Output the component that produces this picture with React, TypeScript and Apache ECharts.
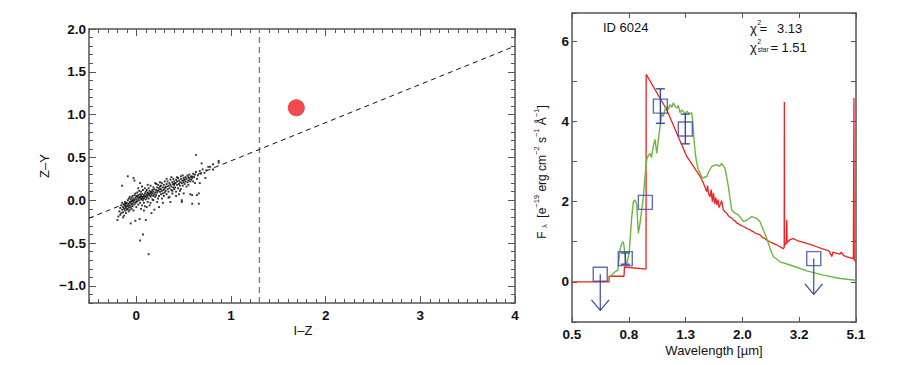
import React, { useEffect, useRef } from 'react';
import * as echarts from 'echarts';

// ---------------- Left panel: colour-colour diagram ----------------
const colorPoints: number[][] = [
  [-0.18,-0.13],[-0.17,-0.09],[-0.16,-0.15],[-0.16,-0.06],[-0.15,-0.11],[-0.15,-0.03],[-0.14,-0.08],[-0.14,-0.14],[-0.13,-0.1],[-0.13,-0.05],[-0.13,-0.18],[-0.12,-0.07],[-0.12,-0.12],[-0.12,-0.02],[-0.11,-0.09],[-0.11,-0.15],[-0.11,-0.05],[-0.1,-0.11],[-0.1,-0.03],[-0.1,-0.07],[-0.19,-0.19],[-0.2,-0.23],[-0.17,-0.17],[-0.15,0.17],[-0.14,-0.2],
  [-0.09,-0.06],[-0.09,-0.1],[-0.09,0.0],[-0.09,0.28],[-0.08,-0.04],[-0.08,-0.13],[-0.08,0.02],[-0.08,-0.08],[-0.07,-0.02],[-0.07,-0.06],[-0.07,-0.11],[-0.07,0.04],[-0.06,-0.27],[-0.06,-0.03],[-0.06,-0.08],[-0.06,0.01],[-0.05,-0.05],[-0.05,0.03],[-0.05,-0.1],[-0.05,-0.01],[-0.04,-0.04],[-0.04,0.05],[-0.04,-0.07],[-0.04,0.0],[-0.03,0.26],[-0.03,-0.02],[-0.03,0.02],[-0.03,-0.12],[-0.02,0.23],[-0.02,0.0],[-0.02,-0.05],[-0.02,0.06],[-0.01,-0.24],[-0.01,0.03],[-0.01,-0.03],[-0.01,0.08],[0.0,0.01],[0.0,-0.08],[0.0,0.05],[0.0,-0.02],
  [0.01,0.04],[0.01,-0.01],[0.01,0.09],[0.02,0.02],[0.02,-0.05],[0.02,0.06],[0.03,0.0],[0.03,0.04],[0.03,0.11],[0.035,-0.22],[0.04,0.2],[0.04,-0.47],[0.04,0.03],[0.04,0.07],[0.04,-0.03],[0.05,0.05],[0.05,0.01],[0.05,0.1],[0.06,0.02],[0.06,-0.06],[0.06,0.07],[0.07,-0.4],[0.07,0.04],[0.07,0.0],[0.07,0.12],[0.08,0.06],[0.08,0.02],[0.08,-0.03],[0.09,0.08],[0.09,0.04],[0.09,0.14],[0.1,-0.23],[0.1,0.05],[0.1,0.01],[0.1,0.1],[0.05,-0.1],[0.08,-0.12],[0.02,0.14],[0.06,0.16],[0.09,-0.07],
  [0.11,0.07],[0.11,0.03],[0.11,0.12],[0.12,0.05],[0.12,0.09],[0.12,-0.02],[0.13,-0.63],[0.13,0.08],[0.13,0.14],[0.13,0.02],[0.14,0.06],[0.14,0.11],[0.14,-0.06],[0.15,0.09],[0.15,0.04],[0.15,0.17],[0.16,0.1],[0.16,-0.15],[0.16,0.06],[0.17,0.12],[0.17,0.01],[0.17,0.08],[0.18,0.15],[0.18,0.05],[0.18,0.1],[0.19,-0.11],[0.19,0.07],[0.19,0.13],[0.2,0.2],[0.2,0.09],[0.2,0.04],[0.12,0.18],[0.15,-0.03],[0.18,0.0],[0.11,-0.08],
  [0.21,0.12],[0.21,0.06],[0.22,0.15],[0.22,-0.02],[0.22,0.09],[0.23,0.18],[0.23,0.11],[0.24,0.05],[0.24,-0.08],[0.24,0.14],[0.25,0.21],[0.25,0.1],[0.26,0.13],[0.26,0.07],[0.26,0.17],[0.27,0.02],[0.27,0.11],[0.27,0.2],[0.28,0.15],[0.28,0.08],[0.29,0.12],[0.29,0.18],[0.29,0.05],[0.3,0.14],[0.3,0.22],[0.3,0.09],[0.23,0.02],[0.28,-0.03],[0.25,0.16],[0.21,0.19],
  [0.31,0.16],[0.31,0.11],[0.32,0.19],[0.32,0.07],[0.33,0.13],[0.33,0.22],[0.34,0.17],[0.34,0.1],[0.35,0.2],[0.35,0.14],[0.35,0.04],[0.36,-0.02],[0.36,0.18],[0.36,0.24],[0.37,0.12],[0.37,0.16],[0.38,0.21],[0.38,0.08],[0.39,0.15],[0.39,0.19],[0.39,0.25],[0.4,0.13],[0.4,0.18],[0.4,0.22],[0.32,0.25],[0.34,0.03],[0.38,0.11],[0.37,0.27],
  [0.41,0.2],[0.41,0.15],[0.42,0.24],[0.42,0.1],[0.43,0.18],[0.43,0.22],[0.44,0.14],[0.44,0.26],[0.45,0.19],[0.45,0.23],[0.45,0.07],[0.46,0.17],[0.46,0.21],[0.47,0.25],[0.47,0.13],[0.47,0.28],[0.48,-0.02],[0.48,0.0],[0.48,0.2],[0.49,0.23],[0.49,0.17],[0.5,0.26],[0.5,0.08],[0.5,0.21],[0.43,0.27],[0.46,0.11],[0.49,0.29],[0.42,0.05],
  [0.51,0.24],[0.51,0.19],[0.52,0.27],[0.52,0.22],[0.53,0.16],[0.53,0.25],[0.54,0.29],[0.54,0.21],[0.55,0.23],[0.55,0.27],[0.55,0.18],[0.56,0.3],[0.56,0.25],[0.57,0.07],[0.57,0.22],[0.58,0.28],[0.58,0.24],[0.59,0.06],[0.59,-0.04],[0.59,0.26],[0.6,0.31],[0.6,0.22],
  [0.61,0.27],[0.62,0.3],[0.62,0.2],[0.63,0.53],[0.63,0.33],[0.64,0.06],[0.64,0.25],[0.65,0.29],[0.66,-0.04],[0.66,0.08],[0.67,0.2],[0.67,0.34],[0.68,0.31],[0.69,0.43],[0.7,0.36],[0.73,0.26],[0.74,0.35],[0.76,0.39],[0.78,0.39],[0.81,0.42],[0.81,0.36],[0.87,0.46],[0.87,0.44],[0.72,0.32]
];
const candidate: number[][] = [[1.69, 1.08]];
const colorCut = 1.3;
const separationLine: number[][] = [[-0.5, -0.21], [4.0, 1.8]];
const izTicks = [0, 1, 2, 3, 4];
const zyTicks = [-1.0, -0.5, 0.0, 0.5, 1.0, 1.5, 2.0];

// ---------------- Right panel: SED ----------------
const wavelengthTickLabels = ['0.5', '0.8', '1.3', '2.0', '3.2', '5.1'];
const redModel: number[][] = [
  [0.5,0],[0.677,0],[0.677,0.14],[0.765,0.14],[0.768,0.37],[0.916,0.32],[0.917,5.17],[1.085,4.29],[1.278,3.125],[1.349,2.88],[1.425,2.63],[1.464,2.46],[1.485,2.35],[1.505,2.25],[1.515,2.4],[1.526,2.2],[1.546,2.12],[1.56,2.3],[1.575,2.0],[1.59,2.22],[1.605,1.95],[1.62,2.1],[1.633,1.92],[1.65,2.05],[1.665,1.85],[1.685,1.95],[1.701,2.02],[1.724,1.79],[1.75,1.74],[1.772,1.71],[1.79,1.66],[1.81,1.62],[1.84,1.6],[1.871,1.54],[1.9,1.52],[1.92,1.47],[1.95,1.45],[1.976,1.42],[2.03,1.38],[2.06,1.36],[2.087,1.33],[2.14,1.3],[2.17,1.27],[2.203,1.25],[2.26,1.2],[2.29,1.19],[2.327,1.17],[2.38,1.1],[2.42,1.08],[2.458,1.04],[2.52,1.0],[2.56,0.98],[2.595,0.96],[2.65,0.93],[2.7,0.9],[2.741,0.875],[2.79,0.84],[2.816,0.83],[2.835,0.85],[2.839,4.48],[2.843,0.9],[2.86,0.95],[2.885,0.95],[2.895,1.54],[2.905,0.98],[2.97,1.05],[3.056,1.08],[3.15,1.03],[3.25,1.0],[3.41,0.96],[3.55,0.92],[3.7,0.875],[3.85,0.83],[4.016,0.79],[4.1,0.76],[4.184,0.63],[4.22,0.74],[4.3,0.72],[4.478,0.69],[4.52,0.74],[4.6,0.66],[4.73,0.625],[4.88,0.6],[4.99,0.58],[5.015,4.58],[5.025,0.55],[5.1,0.5]
];
const greenModel: number[][] = [
  [0.673,0.12],[0.692,0.17],[0.711,0.25],[0.728,0.3],[0.74,0.79],[0.751,0.96],[0.761,1.0],[0.771,0.71],[0.778,0.46],[0.787,0.5],[0.799,0.79],[0.815,1.62],[0.826,2.0],[0.837,2.04],[0.849,1.92],[0.86,1.21],[0.872,1.46],[0.884,1.79],[0.896,2.12],[0.908,2.62],[0.921,3.04],[0.933,3.15],[0.946,3.2],[0.958,3.1],[0.972,3.38],[0.986,3.55],[1.0,3.2],[1.013,3.54],[1.027,3.87],[1.041,4.21],[1.055,4.12],[1.07,4.3],[1.085,4.37],[1.1,4.3],[1.115,4.42],[1.13,4.35],[1.145,4.46],[1.16,4.38],[1.177,4.33],[1.193,4.4],[1.21,4.21],[1.226,4.28],[1.243,4.25],[1.26,4.18],[1.278,4.25],[1.3,4.2],[1.331,4.21],[1.345,3.9],[1.356,3.54],[1.37,3.2],[1.387,2.96],[1.405,2.8],[1.425,2.71],[1.444,2.62],[1.464,2.58],[1.485,2.62],[1.505,2.62],[1.53,2.75],[1.568,2.875],[1.6,2.9],[1.633,2.92],[1.67,2.88],[1.701,2.95],[1.748,2.83],[1.796,2.375],[1.846,1.79],[1.897,1.71],[1.94,1.68],[1.976,1.62],[2.03,1.5],[2.087,1.54],[2.13,1.58],[2.174,1.625],[2.22,1.6],[2.265,1.58],[2.327,1.5],[2.391,1.29],[2.458,1.08],[2.526,0.83],[2.595,0.625],[2.741,0.5],[2.975,0.42],[3.41,0.275],[3.906,0.167],[4.478,0.083],[5.1,0.042]
];
const photWavelength = [0.63, 0.773, 0.911, 1.03, 1.263, 3.61];
const photFlux = [0.19, 0.58, 1.98, 4.38, 3.81, 0.58];
const photError = [0, 0.14, 0, 0.43, 0.37, 0];
const upperLimitWavelength = [0.63, 3.61];
const upperLimitFlux = [0.19, 0.58];
const upperLimitDepth = [0.9, 0.89];

// ---------------- helpers ----------------
const AX = '#555';
const BLUE = '#3848a0';
const FONT = '"Liberation Sans", Arial, Helvetica, sans-serif';
const tickFont = { fontSize: 13.5, fontWeight: 'bold' as const, fontFamily: FONT, color: '#111' };
const near = (v: number, step: number) => Math.abs(v / step - Math.round(v / step)) < 1e-6;
const minus = (s: string) => s.replace('-', '\u2212');
// log wavelength -> axis position (0..5, one unit per labelled tick)
const u = (w: number) => (Math.log(w / 0.5) / Math.log(5.1 / 0.5)) * 5;

function minorAxis(gridIndex: number, position: string, min: number, max: number, interval: number, len: number,
  labelFn: ((v: number) => string) | null, margin = 4) {
  return {
    type: 'value', gridIndex, position, min, max, interval,
    axisLine: { show: true, onZero: false, lineStyle: { color: AX, width: 1.5 } },
    axisTick: { show: true, inside: true, length: len, lineStyle: { color: AX, width: 1 } },
    axisLabel: labelFn ? { show: true, margin, formatter: labelFn, ...tickFont } : { show: false },
    splitLine: { show: false },
    minorTick: { show: false },
  };
}
function majorAxis(gridIndex: number, position: string, min: number, max: number, values: number[], len: number) {
  return {
    type: 'value', gridIndex, position, min, max,
    axisLine: { show: false, onZero: false },
    axisTick: { show: true, inside: true, length: len, customValues: values, lineStyle: { color: AX, width: 1 } },
    axisLabel: { show: false },
    splitLine: { show: false },
  };
}
const txt = (x: number, y: number, text: string, size = 13, align = 'left', extra: any = {}) => ({
  type: 'text', x, y, ...extra,
  style: { text, fontSize: size, fontFamily: FONT, fill: '#111', align, textAlign: align, verticalAlign: 'middle', textVerticalAlign: 'middle' },
});

function buildOption() {
  const lineStroke = (w: number) => ({ stroke: BLUE, lineWidth: w });
  return {
    animation: false,
    backgroundColor: '#fff',
    grid: [
      { left: 89, top: 29, width: 426, height: 274 },
      { left: 572, top: 13, width: 284, height: 309 },
    ],
    xAxis: [
      minorAxis(0, 'bottom', -0.5, 4, 0.1, 4, (v) => (near(v, 1) ? minus(String(Math.round(v))) : ''), 5),
      minorAxis(0, 'top', -0.5, 4, 0.1, 4, null),
      majorAxis(0, 'bottom', -0.5, 4, izTicks, 7),
      majorAxis(0, 'top', -0.5, 4, izTicks, 7),
      minorAxis(1, 'bottom', 0, 5, 1, 5, (v) => wavelengthTickLabels[Math.round(v)] ?? '', 5),
      minorAxis(1, 'top', 0, 5, 1, 5, null),
    ],
    yAxis: [
      minorAxis(0, 'left', -1.2, 2, 0.1, 4, (v) => (near(v, 0.5) ? (Math.abs(v) < 1e-9 ? '0.0' : minus(v.toFixed(1))) : ''), 3),
      minorAxis(0, 'right', -1.2, 2, 0.1, 4, null),
      majorAxis(0, 'left', -1.2, 2, zyTicks, 7),
      majorAxis(0, 'right', -1.2, 2, zyTicks, 7),
      minorAxis(1, 'left', -1, 6.7, 1, 5, (v) => (v >= 0 && near(v, 2) ? String(Math.round(v)) : ''), 3),
      minorAxis(1, 'right', -1, 6.7, 1, 5, null),
    ],
    series: [
      {
        type: 'line', xAxisIndex: 0, yAxisIndex: 0, data: [[colorCut, -1.2], [colorCut, 2.0]], symbol: 'none',
        lineStyle: { color: '#777', width: 1.3, type: [6, 4] }, silent: true,
      },
      {
        type: 'line', xAxisIndex: 0, yAxisIndex: 0, data: separationLine, symbol: 'none',
        lineStyle: { color: '#111', width: 1, type: [5, 4] }, silent: true,
      },
      {
        type: 'scatter', xAxisIndex: 0, yAxisIndex: 0, data: colorPoints, symbol: 'rect', symbolSize: 1.9,
        itemStyle: { color: '#000' }, silent: true,
      },
      {
        type: 'scatter', xAxisIndex: 0, yAxisIndex: 0, data: candidate, symbol: 'circle', symbolSize: 17,
        itemStyle: { color: '#ec1c24' }, silent: true,
      },
      {
        type: 'line', xAxisIndex: 4, yAxisIndex: 4, data: redModel.map((p) => [u(p[0]), p[1]]), symbol: 'none',
        lineStyle: { color: '#ee2020', width: 1.3 }, silent: true,
      },
      {
        type: 'line', xAxisIndex: 4, yAxisIndex: 4, data: greenModel.map((p) => [u(p[0]), p[1]]), symbol: 'none',
        lineStyle: { color: '#6ab83f', width: 1.4 }, silent: true,
      },
      {
        type: 'scatter', xAxisIndex: 4, yAxisIndex: 4, data: photWavelength.map((w, i) => [u(w), photFlux[i]]),
        symbol: 'rect', symbolSize: 14,
        itemStyle: { color: 'rgba(0,0,0,0)', borderColor: BLUE, borderWidth: 1.4 }, silent: true, z: 5,
      },
      {
        type: 'custom', coordinateSystem: 'cartesian2d', xAxisIndex: 4, yAxisIndex: 4, z: 6, silent: true,
        data: photWavelength.map((w, i) => [u(w), photFlux[i], photError[i]]).filter((d) => d[2] > 0),
        encode: { x: 0, y: 1 },
        renderItem: (_p: any, api: any) => {
          const x = api.value(0), y = api.value(1), e = api.value(2);
          const t = api.coord([x, y + e]);
          const b = api.coord([x, y - e]);
          const hw = 4.5;
          return {
            type: 'group',
            children: [
              { type: 'line', shape: { x1: t[0], y1: t[1], x2: b[0], y2: b[1] }, style: lineStroke(1.4) },
              { type: 'line', shape: { x1: t[0] - hw, y1: t[1], x2: t[0] + hw, y2: t[1] }, style: lineStroke(1.4) },
              { type: 'line', shape: { x1: b[0] - hw, y1: b[1], x2: b[0] + hw, y2: b[1] }, style: lineStroke(1.4) },
            ],
          };
        },
      },
      {
        type: 'custom', coordinateSystem: 'cartesian2d', xAxisIndex: 4, yAxisIndex: 4, z: 6, silent: true,
        data: upperLimitWavelength.map((w, i) => [u(w), upperLimitFlux[i], upperLimitDepth[i]]),
        encode: { x: 0, y: 1 },
        renderItem: (_p: any, api: any) => {
          const x = api.value(0), y = api.value(1), d = api.value(2);
          const s = api.coord([x, y]);
          const e = api.coord([x, y - d]);
          return {
            type: 'group',
            children: [
              { type: 'line', shape: { x1: s[0], y1: s[1], x2: e[0], y2: e[1] }, style: lineStroke(1.2) },
              { type: 'polyline', shape: { points: [[e[0] - 8.8, e[1] - 10.5], [e[0], e[1]], [e[0] + 8.8, e[1] - 10.5]] }, style: { ...lineStroke(1.2), fill: 'none' } },
            ],
          };
        },
      },
    ],
    graphic: [
      txt(303, 330, 'I\u2013Z', 13, 'center'),
      txt(44.5, 166, 'Z\u2013Y', 13, 'center', { rotation: Math.PI / 2 }),
      txt(714, 350, 'Wavelength [\u00b5m]', 13, 'center'),
      txt(603, 27, 'ID 6024', 13, 'left'),
      txt(750, 28.5, '\u03c7', 13, 'left'),
      txt(757.3, 22.5, '2', 7, 'left'),
      txt(759.5, 28.5, '=', 13, 'left'),
      txt(777, 28.5, '3.13', 13, 'left'),
      txt(750, 47.5, '\u03c7', 13, 'left'),
      txt(757.3, 41.5, '2', 7, 'left'),
      txt(757.8, 49, 'star', 6.5, 'left'),
      txt(770.5, 47.5, '=', 13, 'left'),
      txt(781.5, 47.5, '1.51', 13, 'left'),
      {
        type: 'text', x: 540, y: 172, rotation: Math.PI / 2,
        style: {
          text: '{n|F }{s|\u03bb}{n|  [e}{p|\u221219}{n| erg cm}{p|\u22122}{n| s}{p|\u22121}{n| \u00c5}{p|\u22121}{n|]}',
          align: 'center', textAlign: 'center', verticalAlign: 'middle', textVerticalAlign: 'middle',
          fontFamily: FONT, fontSize: 12, fill: '#111',
          rich: {
            n: { fontSize: 12, fontFamily: FONT, fill: '#111', lineHeight: 16, verticalAlign: 'bottom' },
            p: { fontSize: 7.5, fontFamily: FONT, fill: '#111', lineHeight: 16, verticalAlign: 'top' },
            s: { fontSize: 7.5, fontFamily: FONT, fill: '#111', lineHeight: 16, verticalAlign: 'bottom' },
          },
        },
      },
    ],
  };
}

export default function App() {
  const ref = useRef<HTMLDivElement>(null);
  useEffect(() => {
    if (!ref.current) return;
    const chart = echarts.init(ref.current, undefined, { renderer: 'svg' });
    chart.setOption(buildOption() as any);
    return () => chart.dispose();
  }, []);
  return (
    <div
      ref={ref}
      style={{ position: 'fixed', left: 0, top: 0, width: 900, height: 365, background: '#fff' }}
    />
  );
}
